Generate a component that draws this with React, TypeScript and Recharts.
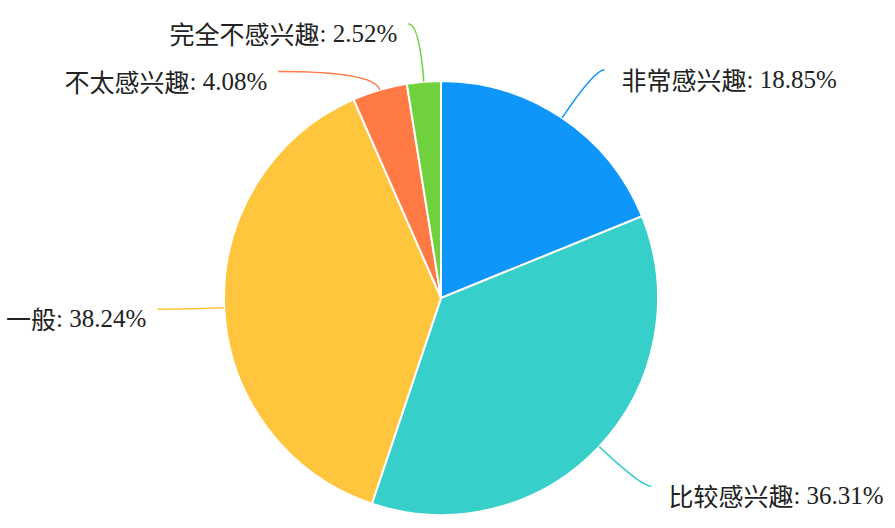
import React from "react";
import { PieChart, Pie, Cell } from "recharts";

const categories = ["非常感兴趣", "比较感兴趣", "一般", "不太感兴趣", "完全不感兴趣"];
const percents = [18.85, 36.31, 38.24, 4.08, 2.52];
const colors = ["#0f96fa", "#36cfc9", "#ffc53d", "#ff7a45", "#6fd13d"];

// leader line layout per slice: radial length, horizontal length
const lineLayout = [
  { len1: 58, len2: 10 },
  { len1: 58, len2: 10 },
  { len1: 30, len2: 37 },
  { len1: 19, len2: 96 },
  { len1: 58, len2: 11 },
];

const data = categories.map((name, i) => ({ name, value: percents[i] }));

const RAD = Math.PI / 180;
const CJK = "'Noto Sans CJK SC', sans-serif";
const SERIF = "'Liberation Serif', 'Times New Roman', serif";

const renderLabel = (props: any) => {
  const { cx, cy, midAngle, outerRadius, index, name, value } = props;
  const cos = Math.cos(-midAngle * RAD);
  const sin = Math.sin(-midAngle * RAD);
  const { len1, len2 } = lineLayout[index];
  const x0 = cx + outerRadius * cos;
  const y0 = cy + outerRadius * sin;
  const x1 = cx + (outerRadius + len1) * cos;
  const y1 = cy + (outerRadius + len1) * sin;
  const right = cos >= 0;
  const x2 = x1 + (right ? len2 : -len2);
  const y2 = y1;
  const tx = x2 + (right ? 17 : -11);
  const ty = y2 + 9;
  return (
    <g key={`lbl-${index}`}>
      <path
        d={`M${x0},${y0} Q${x1},${y1} ${x2},${y2}`}
        stroke={colors[index]}
        strokeWidth={1.5}
        fill="none"
      />
      <text
        x={tx}
        y={ty}
        textAnchor={right ? "start" : "end"}
        dominantBaseline="central"
        fill="#222"
        fontSize={25}
      >
        <tspan style={{ fontFamily: CJK }}>{name}</tspan>
        <tspan style={{ fontFamily: SERIF }}>{`: ${Number(value).toFixed(2)}%`}</tspan>
      </text>
    </g>
  );
};

export default function App() {
  return (
    <div style={{ position: "absolute", left: 0, top: 0, width: 895, height: 528, background: "#fff" }}>
      <PieChart width={895} height={528} margin={{ top: 0, right: 0, bottom: 0, left: 0 }}>
        <Pie
          data={data}
          dataKey="value"
          nameKey="name"
          cx={441}
          cy={298}
          outerRadius={217}
          startAngle={90}
          endAngle={-270}
          stroke="#fff"
          strokeWidth={2}
          label={renderLabel}
          labelLine={false}
          isAnimationActive={false}
        >
          {data.map((d, i) => (
            <Cell key={d.name} fill={colors[i]} />
          ))}
        </Pie>
      </PieChart>
    </div>
  );
}
